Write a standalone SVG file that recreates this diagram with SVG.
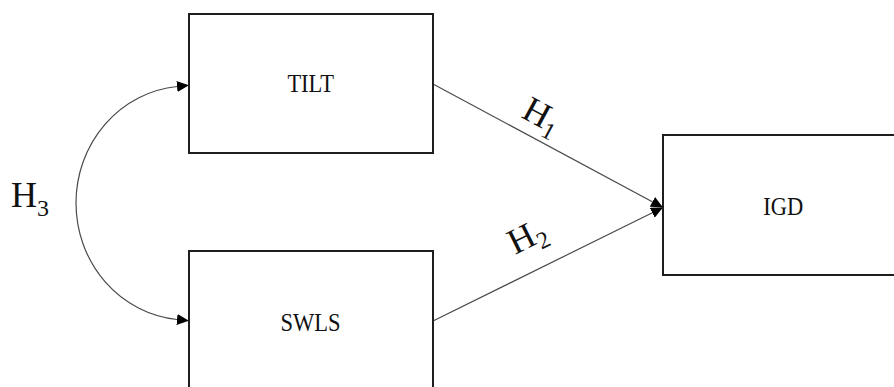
<svg xmlns="http://www.w3.org/2000/svg" width="894" height="387" viewBox="0 0 894 387">
  <style>
    .box { fill: #ffffff; stroke: #1e1e1e; stroke-width: 2; }
    .label { font-family: "Liberation Serif", "Times New Roman", serif; font-size: 22.5px; fill: #111111; text-anchor: middle; }
    .hyp { font-family: "Liberation Serif", "Times New Roman", serif; font-size: 36px; fill: #111111; }
    .sub { font-size: 24px; }
    .edge { fill: none; stroke: #4a4a4a; stroke-width: 1.2; }
  </style>
  <defs>
    <marker id="arrow" viewBox="0 0 12 11" refX="12" refY="5.5" markerWidth="12" markerHeight="11" markerUnits="userSpaceOnUse" orient="auto">
      <path d="M0,0 L12,5.5 L0,11 Z" fill="#000000"/>
    </marker>
    <marker id="arrowBase" viewBox="0 0 12 11" refX="0" refY="5.5" markerWidth="12" markerHeight="11" markerUnits="userSpaceOnUse" orient="auto">
      <path d="M0,0 L12,5.5 L0,11 Z" fill="#000000"/>
    </marker>
  </defs>

  <rect width="894" height="387" fill="#ffffff"/>

  <!-- connectors -->
  <g id="connectors">
    <!-- H3: curved double-headed covariance between TILT and SWLS -->
    <path class="edge" d="M76,203 A112,117 0 0 1 177,86.5" marker-end="url(#arrowBase)"/>
    <path class="edge" d="M76,203 A112,117 0 0 0 177,319.5" marker-end="url(#arrowBase)"/>
    <!-- H1: TILT -> IGD -->
    <line class="edge" x1="433" y1="84" x2="663" y2="207.5" marker-end="url(#arrow)"/>
    <!-- H2: SWLS -> IGD -->
    <line class="edge" x1="433" y1="321" x2="663" y2="207.5" marker-end="url(#arrow)"/>

    <text class="hyp" x="11" y="206.7">H<tspan class="sub" dy="9">3</tspan></text>
    <text class="hyp" transform="translate(520,116.7) rotate(28.4)">H<tspan class="sub" dy="7">1</tspan></text>
    <text class="hyp" transform="translate(515,255) rotate(-26.5)">H<tspan class="sub" dy="7">2</tspan></text>
  </g>

  <!-- nodes -->
  <g id="node-tilt">
    <rect class="box" x="189" y="14" width="244" height="139"/>
    <text class="label" transform="translate(310.7,91.7) scale(1,1.08)">TILT</text>
  </g>
  <g id="node-swls">
    <rect class="box" x="189" y="251" width="244" height="150"/>
    <text class="label" transform="translate(310.5,330.7) scale(1,1.08)">SWLS</text>
  </g>
  <g id="node-igd">
    <rect class="box" x="663" y="135" width="250" height="140"/>
    <text class="label" transform="translate(783.3,214.8) scale(1,1.1)">IGD</text>
  </g>
</svg>
